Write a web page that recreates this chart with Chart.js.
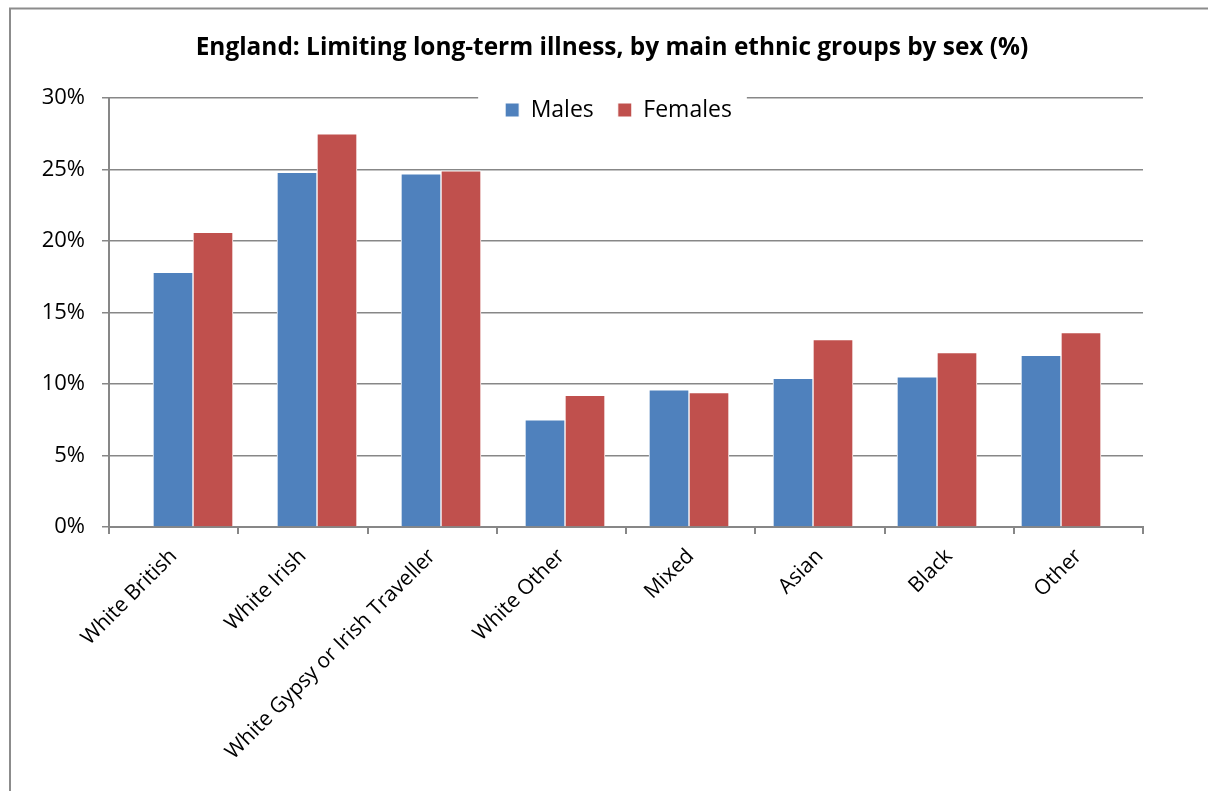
<!DOCTYPE html>
<html><head><meta charset="utf-8">
<script src="https://cdn.jsdelivr.net/npm/chart.js@4.4.1/dist/chart.umd.min.js"></script>
<style>html,body{margin:0;padding:0;background:#fff;} #wrap{width:1208px;height:791px;}</style>
</head><body><div id="wrap"><canvas id="c" width="1208" height="791"></canvas></div>
<script>
const titleText = 'England: Limiting long-term illness, by main ethnic groups by sex (%)';
const categories = ['White British', 'White Irish', 'White Gypsy or Irish Traveller', 'White Other', 'Mixed', 'Asian', 'Black', 'Other'];
const seriesNames = ['Males', 'Females'];
const malesValues = [17.8, 24.8, 24.7, 7.5, 9.6, 10.4, 10.5, 12.0];
const femalesValues = [20.6, 27.5, 24.9, 9.2, 9.4, 13.1, 12.2, 13.6];

const FONT = "'Open Sans', 'DejaVu Sans', sans-serif";
const GRID = '#878787';

const layoutPlugin = {
  id: 'layoutTweaks',
  beforeDraw(chart) {
    const ctx = chart.ctx;
    ctx.save();
    ctx.fillStyle = '#fff';
    ctx.fillRect(0, 0, chart.width, chart.height);
    ctx.strokeStyle = '#8c8c8c';
    ctx.lineWidth = 2;
    ctx.strokeRect(10, 8.5, chart.width + 40, chart.height + 40);
    ctx.restore();
  },
  beforeLayout(chart) {
    const lg = chart.legend;
    if (lg && !lg._patched) {
      const f = lg.fit;
      lg.fit = function () { f.call(this); this.height = 0; };
      lg._patched = true;
    }
  },
  afterLayout(chart) {
    const lg = chart.legend;
    if (lg) {
      lg.top = 110 - 24 - 11.5;
      lg.height = 60;
      lg.bottom = lg.top + lg.height;
      lg.left += 47; lg.right += 47;
    }
    const t = chart.titleBlock;
    if (t) { t.left += 40.5; t.right += 40.5; }
  },
  beforeDatasetsDraw(chart) {
    const lg = chart.legend;
    if (!lg || !lg.legendHitBoxes || !lg.legendHitBoxes.length) return;
    const hb = lg.legendHitBoxes;
    const l = Math.min(...hb.map(h => h.left));
    const r = Math.max(...hb.map(h => h.left + h.width));
    const ctx = chart.ctx;
    ctx.save();
    ctx.fillStyle = '#fff';
    ctx.fillRect(l - 27, 90, r - l + 27 + 15, 30);
    ctx.restore();
    lg.draw();
  }
};

const toPoints = arr => arr.map((v, i) => ({ x: i, y: v }));

new Chart(document.getElementById('c'), {
  type: 'bar',
  data: {
    labels: categories,
    datasets: [
      { label: seriesNames[0], data: toPoints(malesValues), xAxisID: 'xb', backgroundColor: '#4F81BD', borderColor: '#ffffff', borderWidth: 1, borderSkipped: 'bottom', barThickness: 40 },
      { label: seriesNames[1], data: toPoints(femalesValues), xAxisID: 'xb', backgroundColor: '#C0504D', borderColor: '#ffffff', borderWidth: 1, borderSkipped: 'bottom', barThickness: 40 }
    ]
  },
  options: {
    responsive: false,
    devicePixelRatio: 1,
    animation: false,
    events: [],
    layout: { padding: { left: 0, right: 65, top: 0, bottom: 0 } },
    plugins: {
      title: { display: true, text: titleText, color: '#000', font: { family: FONT, size: 24.4, weight: 'bold' }, padding: { top: 33, bottom: 35.7 } },
      legend: { display: true, position: 'top', labels: { boxWidth: 14, boxHeight: 14, padding: 24, color: '#000', font: { family: FONT, size: 23 } } },
      tooltip: { enabled: false }
    },
    scales: {
      x: {
        type: 'category',
        offset: true,
        grid: { display: true, drawOnChartArea: false, drawTicks: true, tickLength: 7, color: GRID, lineWidth: 2, offset: true },
        border: { display: true, color: GRID, width: 2 },
        ticks: { color: '#000', font: { family: FONT, size: 21 }, maxRotation: 45, minRotation: 45, padding: 10, autoSkip: false },
        afterFit(s) { s.height = 791 - 527; }
      },
      xb: {
        type: 'linear',
        display: false,
        position: 'bottom',
        offset: false,
        min: -0.6774,
        max: 7.6613,
        grid: { display: false }
      },
      y: {
        min: 0, max: 30,
        ticks: { stepSize: 5, callback: v => v + '%', color: '#000', font: { family: FONT, size: 22 }, padding: 17 },
        grid: { color: GRID, lineWidth: 1.5, tickLength: 7, drawTicks: true },
        border: { display: true, color: GRID, width: 2 },
        afterFit(s) { s.width = 109; }
      }
    }
  },
  plugins: [layoutPlugin]
});
</script>
</body></html>
